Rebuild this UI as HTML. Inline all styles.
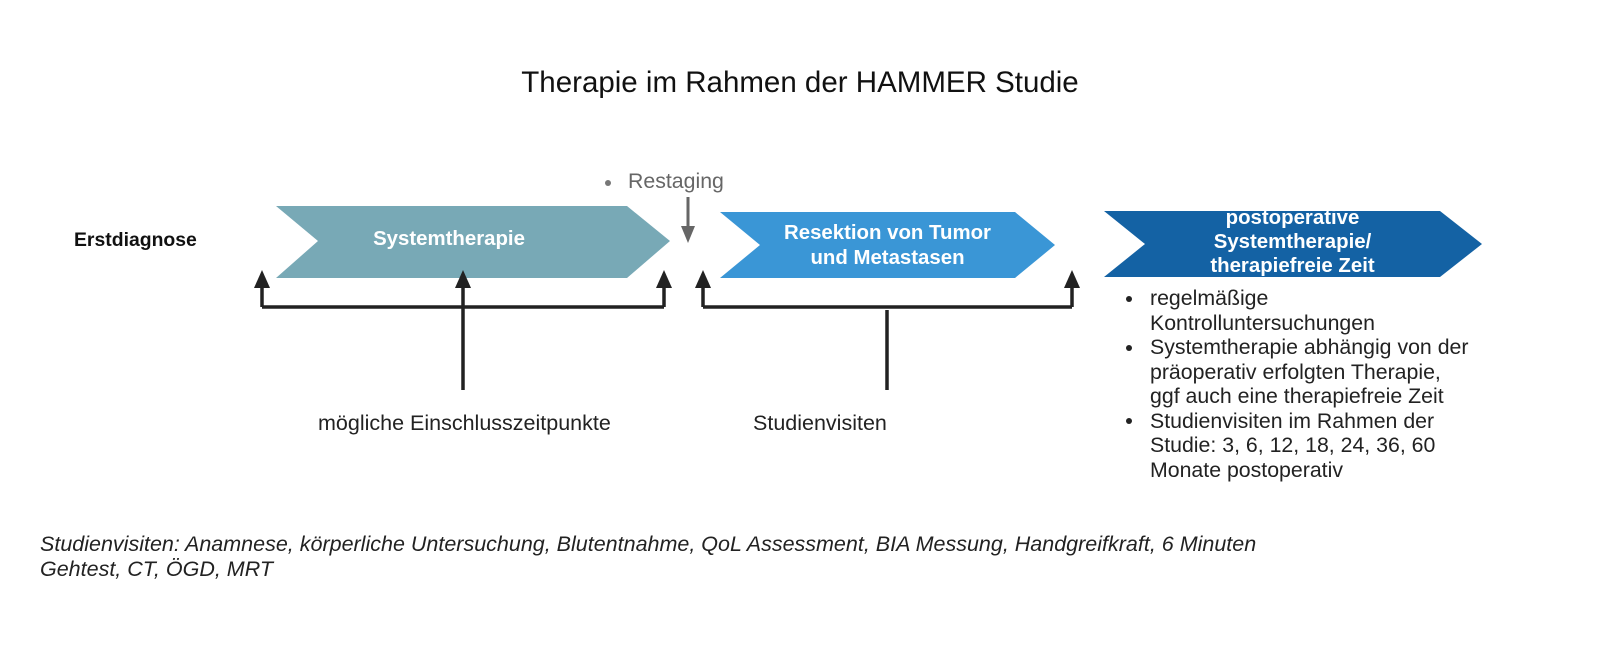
<!DOCTYPE html>
<html><head><meta charset="utf-8"><style>
body{margin:0;width:1600px;height:654px;background:#fff;overflow:hidden;font-family:"Liberation Sans",sans-serif;}
.t{position:absolute;white-space:nowrap;}
.b{position:absolute;left:1150px;font-size:21.3px;line-height:24.5px;color:#222;white-space:nowrap;}
.d{position:absolute;width:6px;height:6px;border-radius:50%;background:#222;left:1126px;}
</style></head><body>
<svg width="1600" height="654" style="position:absolute;left:0;top:0">
<polygon points="276,206 627,206 670,241 627,278 276,278 318,241" fill="#78a9b6"/>
<polygon points="720,212 1015,212 1055,245 1015,278 720,278 760,245" fill="#3a96d6"/>
<polygon points="1104,211 1440,211 1482,244 1440,277 1104,277 1145,244" fill="#1462a4"/>
<g stroke="#222" stroke-width="3.5" fill="none">
<path d="M262,307 H664 M262,307 V284 M664,307 V284 M463,390 V284"/>
<path d="M703,307 H1072 M703,307 V284 M1072,307 V284 M887,310 V390"/>
</g>
<g fill="#222">
<path d="M254,288 L262,270 L270,288Z"/><path d="M455,288 L463,270 L471,288Z"/><path d="M656,288 L664,270 L672,288Z"/>
<path d="M695,288 L703,270 L711,288Z"/><path d="M1064,288 L1072,270 L1080,288Z"/>
</g>
<path d="M688,197 V228" stroke="#666" stroke-width="3"/>
<path d="M681,226 L688,243 L695,226Z" fill="#666"/>
<circle cx="608" cy="183" r="3" fill="#777"/>
</svg>
<div class="t" style="left:0;width:1600px;text-align:center;top:66px;font-size:29.5px;color:#111">Therapie im Rahmen der HAMMER Studie</div>
<div class="t" style="left:628px;top:169px;font-size:21.3px;color:#666">Restaging</div>
<div class="t" style="left:74px;top:229px;font-size:19.4px;font-weight:bold;color:#111">Erstdiagnose</div>
<div class="t" style="left:276px;width:346px;text-align:center;top:228px;font-size:20.4px;font-weight:bold;color:#fff">Systemtherapie</div>
<div class="t" style="left:760px;width:255px;text-align:center;top:221px;font-size:20.4px;line-height:25px;font-weight:bold;color:#fff">Resektion von Tumor<br>und Metastasen</div>
<div class="t" style="left:1145px;width:295px;text-align:center;top:206px;font-size:20.4px;line-height:24px;font-weight:bold;color:#fff">postoperative<br>Systemtherapie/<br>therapiefreie Zeit</div>
<div class="t" style="left:318px;top:411px;font-size:21.5px;color:#222">mögliche Einschlusszeitpunkte</div>
<div class="t" style="left:753px;top:411px;font-size:21.5px;color:#222">Studienvisiten</div>
<div class="d" style="top:296px"></div><div class="d" style="top:345px"></div><div class="d" style="top:418px"></div>
<div class="b" style="top:286px">regelmäßige<br>Kontrolluntersuchungen<br>Systemtherapie abhängig von der<br>präoperativ erfolgten Therapie,<br>ggf auch eine therapiefreie Zeit<br>Studienvisiten im Rahmen der<br>Studie: 3, 6, 12, 18, 24, 36, 60<br>Monate postoperativ</div>
<div class="t" style="left:40px;top:532px;font-size:21.5px;line-height:25px;font-style:italic;color:#222">Studienvisiten: Anamnese, körperliche Untersuchung, Blutentnahme, QoL Assessment, BIA Messung, Handgreifkraft, 6 Minuten<br>Gehtest, CT, ÖGD, MRT</div>
</body></html>
